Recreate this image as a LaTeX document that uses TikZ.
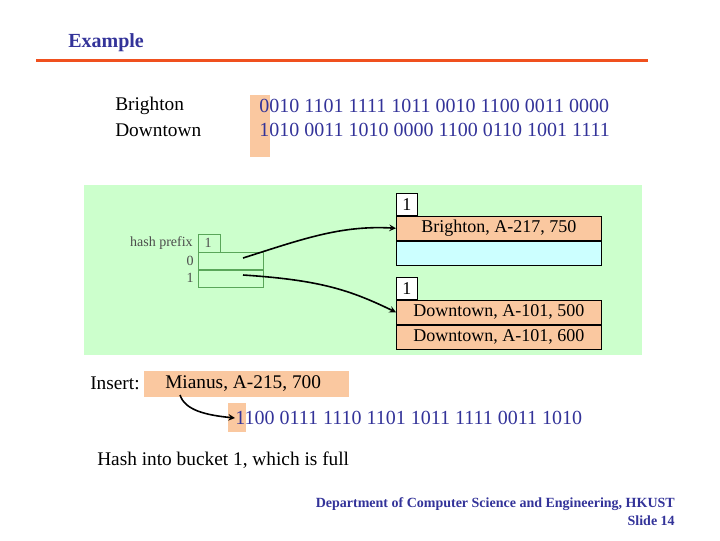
\documentclass[tikz,border=0pt]{standalone}
\usepackage{fontspec}
\setmainfont{Liberation Serif}
\usetikzlibrary{positioning}
\definecolor{slideblue}{RGB}{51,51,153}
\definecolor{peach}{RGB}{250,200,160}
\definecolor{mint}{RGB}{204,255,204}
\definecolor{aqua}{RGB}{204,255,255}
\definecolor{rule}{RGB}{240,80,30}
\tikzstyle{arrow} = [line width=1.2pt,-stealth]
\tikzstyle{txt} = [inner sep=0pt,anchor=west,font=\fontsize{14.5}{17}\selectfont]
\tikzstyle{bits} = [txt,text=slideblue,font=\fontsize{15}{18}\selectfont]
\tikzstyle{rec} = [draw,fill=peach,minimum width=153.75pt,minimum height=18pt,inner sep=0pt,anchor=north west,font=\fontsize{13.5}{16}\selectfont]
\tikzstyle{depth} = [draw,fill=white,minimum width=15.75pt,minimum height=16.5pt,inner sep=0pt,anchor=south west,font=\fontsize{13.5}{16}\selectfont]
\tikzstyle{dir} = [inner sep=0pt,font=\fontsize{10.5}{12}\selectfont,text=black!70]
\begin{document}
\begin{tikzpicture}[x=0.75pt,y=-0.75pt]
    \useasboundingbox (0,0) rectangle (720,540);

    \node[font=\bfseries\fontsize{15}{18}\selectfont,text=slideblue,anchor=west,inner sep=0pt] (title) at (68,43) {Example};
    \fill[rule] (36,58.5) rectangle (648,61.5);

    % search keys and their hash values
    \fill[peach] (250,95) rectangle (270,157);
    \node[txt] (kb) at (115,106) {Brighton};
    \node[txt] (kd) at (115,130) {Downtown};
    \node[bits] (hb) at (259,106) {0010 1101 1111 1011 0010 1100 0011 0000};
    \node[bits] (hd) at (259,130) {1010 0011 1010 0000 1100 0110 1001 1111};

    % directory and buckets
    \fill[mint] (84,185) rectangle (642,355);
    \node[dir,anchor=east] (hp) at (193,243) {hash prefix};
    \draw[green!30!gray] (198,234) rectangle (220,252);
    \node[dir] (gd) at (208,243) {1};
    \draw[green!30!gray] (198,252) rectangle (263,269);
    \draw[green!30!gray] (198,270) rectangle (263,287);
    \draw[green!30!gray,thick] (198,269.5) -- (263,269.5);
    \node[dir] (p0) at (190,261) {0};
    \node[dir] (p1) at (190,278) {1};
    \coordinate (d0) at (243,258);
    \coordinate (d1) at (243,275);

    \node[rec] (b1r1) at (396,216) {Brighton, A-217, 750};
    \node[rec,fill=aqua,below=0pt of b1r1] (b1r2) {};
    \node[depth] (b1) at (396,216) {1};
    \node[rec] (b2r1) at (396,300) {Downtown, A-101, 500};
    \node[rec,below=0pt of b2r1] (b2r2) {Downtown, A-101, 600};
    \node[depth] (b2) at (396,300) {1};

    \draw[arrow] (d0) .. controls (300,240) and (340,225) .. (b1r1.west);
    \draw[arrow] (d1) .. controls (320,280) and (350,290) .. (b2r1.west);

    % record to insert
    \node[txt] (ins) at (90,383) {Insert:};
    \fill[peach] (144,371) rectangle (349,397);
    \node[txt] (mi) at (165,384) {Mianus, A-215, 700};
    \fill[peach] (228,403) rectangle (246,432);
    \node[bits] (hm) at (235,418) {1100 0111 1110 1101 1011 1111 0011 1010};
    \draw[arrow] (180,395) .. controls (185,410) and (205,415) .. (hm.west);

    \node[txt] (note) at (97,460) {Hash into bucket 1, which is full};

    \node[inner sep=0pt,anchor=east,text=slideblue,font=\bfseries\fontsize{10.5}{12}\selectfont] (ft1) at (675,504) {Department of Computer Science and Engineering, HKUST};
    \node[inner sep=0pt,anchor=east,text=slideblue,font=\bfseries\fontsize{10.5}{12}\selectfont] (ft2) at (675,521) {Slide 14};
\end{tikzpicture}
\end{document}
